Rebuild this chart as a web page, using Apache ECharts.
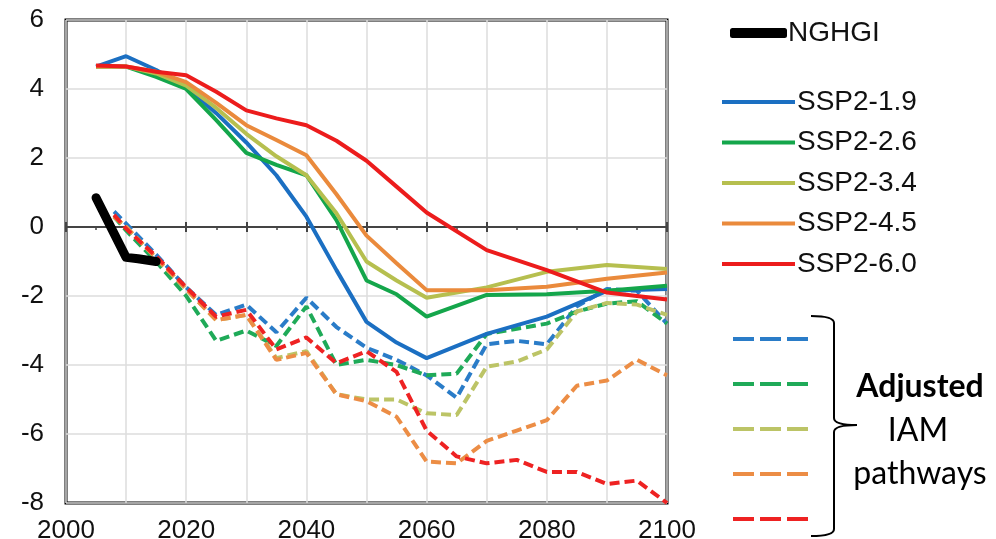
<!DOCTYPE html>
<html>
<head>
<meta charset="utf-8">
<script src="https://cdn.jsdelivr.net/npm/echarts@6/dist/echarts.min.js"></script>
<style>html,body{margin:0;padding:0;background:#fff}#c{width:996px;height:539px}</style>
</head>
<body>
<div id="c"></div>
<script>
// ---- data ----
const ssNames = ['SSP2-1.9', 'SSP2-2.6', 'SSP2-3.4', 'SSP2-4.5', 'SSP2-6.0'];
const adjNames = ['Adjusted SSP2-1.9', 'Adjusted SSP2-2.6', 'Adjusted SSP2-3.4', 'Adjusted SSP2-4.5', 'Adjusted SSP2-6.0'];
const xTickYears = [2000, 2020, 2040, 2060, 2080, 2100];
const yTicks = [-8, -6, -4, -2, 0, 2, 4, 6];

const solidYears = [2005, 2010, 2015, 2020, 2025, 2030, 2035, 2040, 2045, 2050, 2055, 2060, 2070, 2080, 2090, 2100];
const ssp19 = [4.65, 4.95, 4.55, 4.05, 3.3, 2.45, 1.5, 0.3, -1.25, -2.75, -3.35, -3.8, -3.1, -2.6, -1.85, -1.8];
const ssp26 = [4.65, 4.65, 4.35, 4.0, 3.1, 2.15, 1.8, 1.5, 0.2, -1.55, -1.95, -2.6, -1.97, -1.95, -1.85, -1.7];
const ssp34 = [4.65, 4.65, 4.45, 4.1, 3.45, 2.7, 2.05, 1.5, 0.4, -1.0, -1.55, -2.05, -1.75, -1.3, -1.1, -1.22];
const ssp45 = [4.65, 4.65, 4.5, 4.2, 3.6, 2.95, 2.52, 2.08, 0.95, -0.25, -1.05, -1.83, -1.83, -1.73, -1.5, -1.32];
const ssp60 = [4.68, 4.65, 4.5, 4.4, 3.92, 3.38, 3.15, 2.95, 2.5, 1.92, 1.17, 0.42, -0.67, -1.25, -1.9, -2.1];

const adjYears = [2008, 2010, 2015, 2020, 2025, 2030, 2035, 2040, 2045, 2050, 2055, 2060, 2065, 2070, 2075, 2080, 2085, 2090, 2095, 2100];
const adj19 = [0.45, 0.1, -0.8, -1.75, -2.55, -2.25, -3.05, -2.05, -2.9, -3.5, -3.85, -4.3, -4.95, -3.4, -3.3, -3.4, -2.3, -1.8, -1.85, -2.8];
const adj26 = [0.3, -0.1, -1.0, -2.0, -3.3, -3.0, -3.45, -2.3, -4.0, -3.85, -4.0, -4.3, -4.25, -3.1, -2.95, -2.8, -2.45, -2.22, -2.15, -2.8];
const adj34 = [0.3, 0.0, -0.9, -1.8, -2.7, -2.55, -3.8, -3.6, -4.85, -5.0, -5.0, -5.4, -5.45, -4.05, -3.9, -3.55, -2.45, -2.2, -2.25, -2.55];
const adj45 = [0.3, 0.0, -0.9, -1.8, -2.7, -2.55, -3.85, -3.65, -4.85, -5.05, -5.5, -6.8, -6.85, -6.2, -5.9, -5.6, -4.6, -4.45, -3.85, -4.3];
const adj60 = [0.35, -0.05, -0.85, -1.75, -2.6, -2.4, -3.55, -3.2, -3.95, -3.6, -4.2, -5.9, -6.65, -6.85, -6.75, -7.1, -7.1, -7.45, -7.35, -8.0];

const ngYears = [2005, 2010, 2012, 2015];
const ngValues = [0.85, -0.88, -0.92, -1.0];

// ---- styles ----
const solidColors = ['#1b6fc2', '#14a64b', '#b6bf4f', '#ea8a3c', '#ec1c1c'];
const dashColors = ['#2a7cc8', '#1faa58', '#bcc466', '#ec8d45', '#ee2222'];

const pairs = (xs, ys) => xs.map((x, i) => [x, ys[i]]);
const solidVals = [ssp19, ssp26, ssp34, ssp45, ssp60];
const adjVals = [adj19, adj26, adj34, adj45, adj60];

const series = [];
adjVals.forEach((v, i) => series.push({
  name: adjNames[i], type: 'line', data: pairs(adjYears, v), symbol: 'none', z: 2,
  lineStyle: { color: dashColors[i], width: 4, type: [10, 5] },
  itemStyle: { color: dashColors[i] }
}));
solidVals.forEach((v, i) => series.push({
  name: ssNames[i], type: 'line', data: pairs(solidYears, v), symbol: 'none', z: 3,
  lineStyle: { color: solidColors[i], width: 4 },
  itemStyle: { color: solidColors[i] }
}));
series.push({
  name: 'NGHGI', type: 'line', data: pairs(ngYears, ngValues), symbol: 'none', z: 4,
  lineStyle: { color: '#000', width: 9, cap: 'round', join: 'round' },
  itemStyle: { color: '#000' }
});

const font = 'Liberation Sans';
const bs = { stroke: '#000', lineWidth: 2, fill: null };
const chart = echarts.init(document.getElementById('c'), null, { renderer: 'canvas' });
chart.setOption({
  animation: false,
  backgroundColor: '#fff',
  grid: { left: 66, right: 329, top: 20, bottom: 36, outerBoundsMode: 'none', containLabel: false,
    show: true, borderColor: '#000', borderWidth: 3, backgroundColor: 'transparent' },
  xAxis: [
    {
      type: 'value', min: 2000, max: 2100, interval: 10, position: 'bottom',
      axisLine: { show: false, onZero: false }, axisTick: { show: false },
      splitLine: { show: true, lineStyle: { color: '#dcdcdc', width: 1.5 } },
      axisLabel: { fontFamily: font, fontSize: 26, color: '#111', margin: 15,
        formatter: v => (xTickYears.indexOf(v) >= 0 ? String(v) : '') }
    },
    {
      type: 'value', min: 2000, max: 2100, interval: 10, position: 'bottom',
      axisLine: { show: true, onZero: true, onZeroAxisIndex: 0, lineStyle: { color: '#444', width: 2 } },
      axisTick: { show: true, length: 5, lineStyle: { color: '#444', width: 2 } },
      minorTick: { show: true, splitNumber: 2, length: 3, lineStyle: { color: '#444', width: 1.5 } },
      splitLine: { show: false }, axisLabel: { show: false }
    },
    {
      type: 'value', min: 2000, max: 2100, interval: 10, position: 'bottom',
      axisLine: { show: false, onZero: true, onZeroAxisIndex: 0 },
      axisTick: { show: true, inside: true, length: 5, lineStyle: { color: '#444', width: 2 } },
      splitLine: { show: false }, axisLabel: { show: false }
    }
  ],
  yAxis: {
    type: 'value', min: -8, max: 6, interval: 2,
    axisLine: { show: false }, axisTick: { show: false },
    splitLine: { show: true, lineStyle: { color: '#dcdcdc', width: 1.5 } },
    axisLabel: { fontFamily: font, fontSize: 26, color: '#111', margin: 22,
      formatter: v => (yTicks.indexOf(v) >= 0 ? String(v) : '') }
  },
  legend: [
    {
      data: ['NGHGI'], left: 725, top: 13, itemWidth: 57, itemHeight: 10, itemGap: 0,
      icon: 'roundRect', selectedMode: false,
      textStyle: { fontFamily: font, fontSize: 28, lineHeight: 30, color: '#111', padding: [0, 0, 0, -4] }
    },
    {
      data: ssNames, orient: 'vertical', left: 717, top: 82, itemWidth: 73, itemHeight: 4, itemGap: 10.5,
      icon: 'rect', selectedMode: false,
      textStyle: { fontFamily: font, fontSize: 28, color: '#111', lineHeight: 30, padding: [0, 0, 0, -3] }
    },
    {
      data: adjNames, orient: 'vertical', left: 728, top: 324, itemWidth: 75, itemHeight: 4, itemGap: 25,
      icon: 'path://M0,0h21v4h-21z M27,0h21v4h-21z M54,0h21v4h-21z',
      selectedMode: false, formatter: () => ' ',
      textStyle: { fontSize: 10, lineHeight: 20 }
    }
  ],
  graphic: [
    { type: 'bezierCurve', z: 10, shape: { x1: 811, y1: 316, x2: 834, y2: 323, cpx1: 834, cpy1: 316 }, style: bs },
    { type: 'line', z: 10, shape: { x1: 834, y1: 323, x2: 834, y2: 418 }, style: bs },
    { type: 'bezierCurve', z: 10, shape: { x1: 834, y1: 418, x2: 857, y2: 425, cpx1: 834, cpy1: 425 }, style: bs },
    { type: 'bezierCurve', z: 10, shape: { x1: 857, y1: 425, x2: 834, y2: 432, cpx1: 834, cpy1: 425 }, style: bs },
    { type: 'line', z: 10, shape: { x1: 834, y1: 432, x2: 834, y2: 529 }, style: bs },
    { type: 'bezierCurve', z: 10, shape: { x1: 834, y1: 529, x2: 811, y2: 536, cpx1: 834, cpy1: 536 }, style: bs },
    { type: 'text', z: 10, style: { text: 'Adjusted', x: 920, y: 387, align: 'center', verticalAlign: 'middle', fontFamily: 'Lato', fontWeight: 'bold', fontSize: 32, fill: '#000' } },
    { type: 'text', z: 10, style: { text: 'IAM', x: 918, y: 431, align: 'center', verticalAlign: 'middle', fontFamily: 'Lato', fontSize: 32, fill: '#000' } },
    { type: 'text', z: 10, style: { text: 'pathways', x: 920, y: 474, align: 'center', verticalAlign: 'middle', fontFamily: 'Lato', fontSize: 32, fill: '#000' } }
  ],
  series: series
});
</script>
</body>
</html>
